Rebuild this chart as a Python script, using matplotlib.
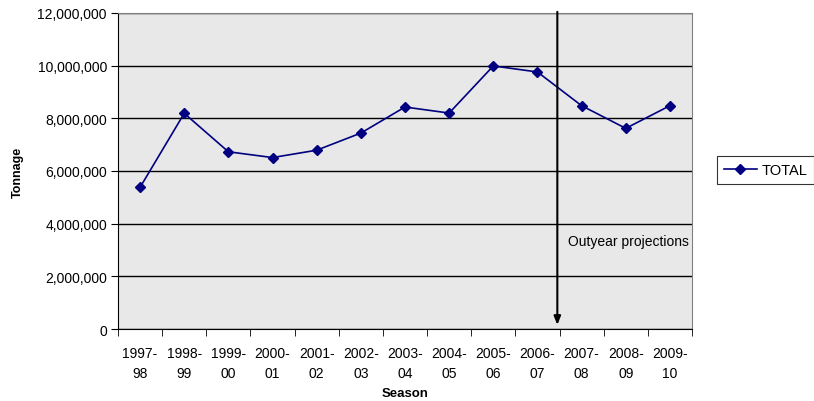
import matplotlib
matplotlib.use("Agg")
import matplotlib.pyplot as plt
from matplotlib.ticker import FuncFormatter, FixedLocator

seasons = ["1997-\n98", "1998-\n99", "1999-\n00", "2000-\n01", "2001-\n02", "2002-\n03",
           "2003-\n04", "2004-\n05", "2005-\n06", "2006-\n07", "2007-\n08", "2008-\n09", "2009-\n10"]
total = [5380000, 8190000, 6730000, 6510000, 6790000, 7440000, 8430000,
         8200000, 9990000, 9760000, 8480000, 7620000, 8480000]
y_ticks = [0, 2000000, 4000000, 6000000, 8000000, 10000000, 12000000]

plt.rcParams['font.family'] = ['Liberation Sans', 'DejaVu Sans']

fig = plt.figure(figsize=(8.14, 4.02), dpi=100)
ax = fig.add_axes([118/814, 1-330/402, 574/814, 316/402])
ax.set_facecolor('#e8e8e8')

x = list(range(len(total)))
ax.plot(x, total, color='#000080', lw=1.2, marker='D', markersize=5,
        markerfacecolor='#000080', markeredgecolor='#000080', label='TOTAL', zorder=3)

ax.set_xlim(-0.5, len(total) - 0.5)
ax.set_ylim(0, 12000000)
ax.set_yticks(y_ticks)
ax.yaxis.set_major_formatter(FuncFormatter(lambda v, p: f"{int(v):,}"))
ax.grid(axis='y', color='black', lw=1)
ax.set_axisbelow(True)

ax.set_xticks(x)
ax.set_xticklabels(seasons, linespacing=1.6)
ax.xaxis.set_minor_locator(FixedLocator([i - 0.5 for i in range(len(total) + 1)]))
ax.tick_params(axis='x', which='major', length=0, pad=12, labelsize=10)
ax.tick_params(axis='x', which='minor', length=5, color='black')
ax.tick_params(axis='y', length=5, color='black', labelsize=10, pad=3)

for s in ['top', 'right']:
    ax.spines[s].set_color('#808080')
for s in ['left', 'bottom']:
    ax.spines[s].set_color('black')

ax.set_ylabel('Tonnage', fontsize=9, fontweight='bold', labelpad=10)
ax.set_xlabel('Season', fontsize=9.5, fontweight='bold', labelpad=5)

ax.annotate('', xy=(9.45, 50000), xytext=(9.45, 12150000),
            arrowprops=dict(arrowstyle='-|>,head_length=0.5,head_width=0.2', color='black', lw=1.5),
            annotation_clip=False, zorder=4)
ax.text(9.7, 3340000, 'Outyear projections', fontsize=10, va='center', ha='left')

leg = ax.legend(loc='center left', bbox_to_anchor=(1.0436, 0.503), frameon=True, fancybox=False,
                edgecolor='black', fontsize=10.5, handlelength=2.3, borderpad=0.45,
                handletextpad=0.3, borderaxespad=0)
leg.get_frame().set_linewidth(0.8)

fig.savefig('out.png', dpi=100)
